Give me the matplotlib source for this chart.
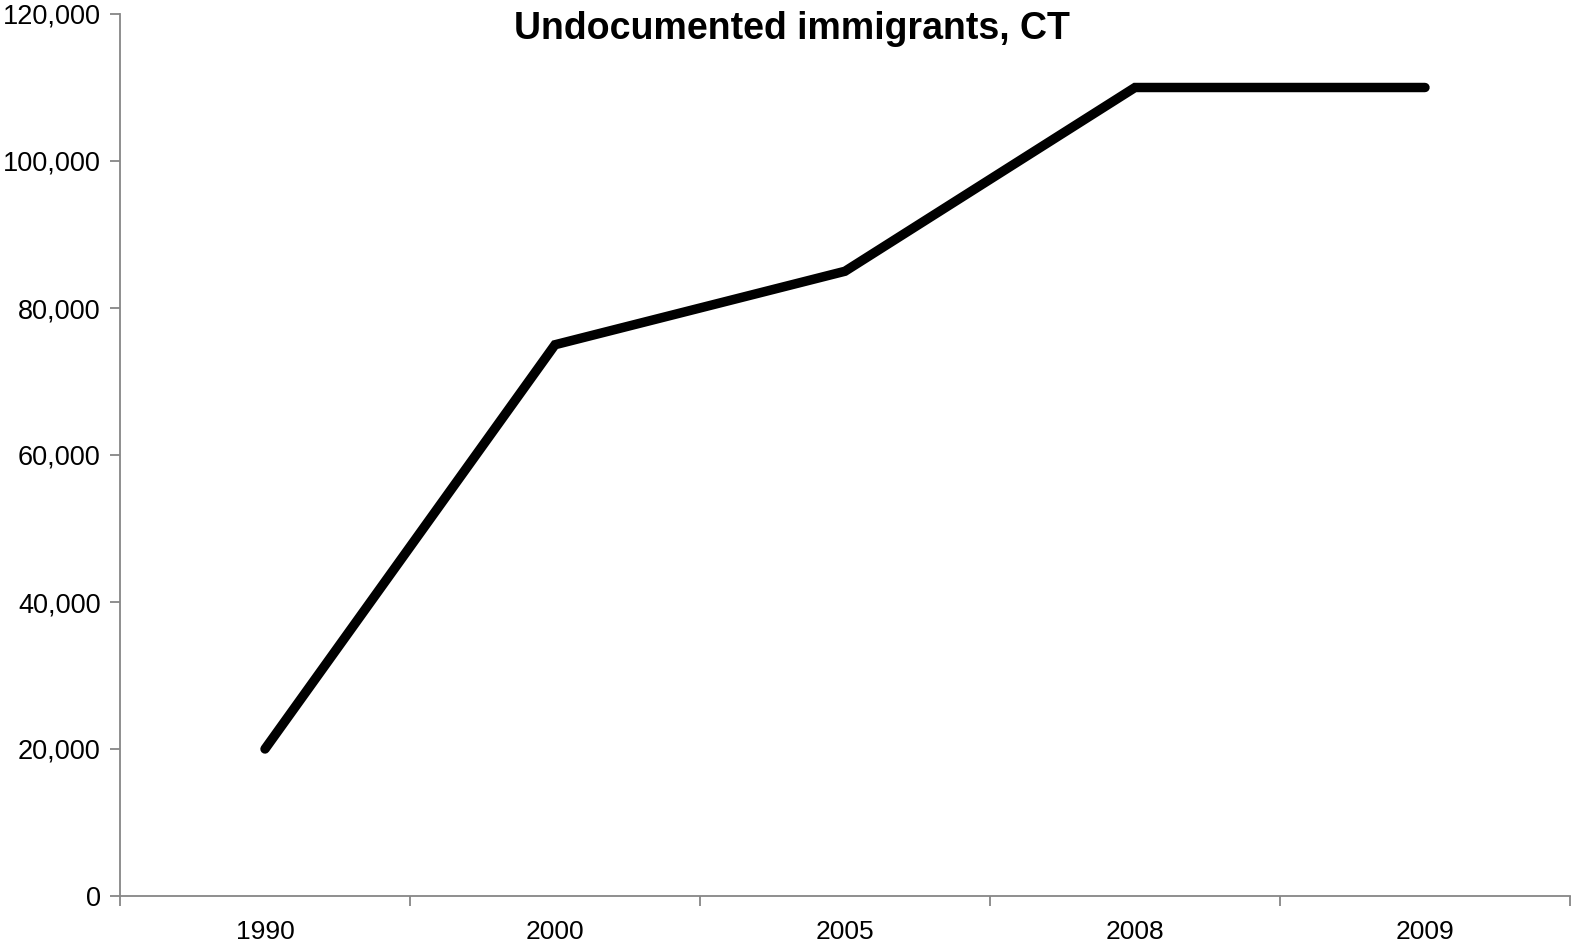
import matplotlib
matplotlib.use("Agg")
import matplotlib.pyplot as plt
from matplotlib.ticker import FuncFormatter

years = ["1990", "2000", "2005", "2008", "2009"]
immigrants = [20000, 75000, 85000, 110000, 110000]
y_ticks = [0, 20000, 40000, 60000, 80000, 100000, 120000]

plt.rcParams["font.family"] = ["Liberation Sans", "DejaVu Sans"]

fig = plt.figure(figsize=(15.72, 9.43), dpi=100)
ax = fig.add_axes([120 / 1572, 47 / 943, 1450 / 1572, 882 / 943])

x = list(range(len(years)))
ax.plot(x, immigrants, color="black", linewidth=6.8, solid_capstyle="round",
        solid_joinstyle="miter")

ax.set_xlim(-0.5, len(years) - 0.5)
ax.set_ylim(0, 120000)
ax.set_yticks(y_ticks)
ax.yaxis.set_major_formatter(FuncFormatter(lambda v, p: f"{int(v):,}"))

# category boundaries get the tick marks; labels sit in the middle
ax.set_xticks([i - 0.5 for i in range(len(years) + 1)])
ax.set_xticklabels([])
ax.set_xticks(x, minor=True)
ax.set_xticklabels(years, minor=True)
ax.tick_params(axis="x", which="minor", length=0, pad=17, labelsize=19)
ax.tick_params(axis="x", which="major", length=7, width=1.3, color="#868686")
ax.tick_params(axis="y", length=7, width=1.3, color="#868686", labelsize=19.5, pad=7)

for side in ("top", "right"):
    ax.spines[side].set_visible(False)
for side in ("left", "bottom"):
    ax.spines[side].set_color("#868686")
    ax.spines[side].set_linewidth(1.3)

fig.text(0.504, 0.969, "Undocumented immigrants, CT", ha="center", va="center",
         fontsize=27, fontweight="bold")

fig.savefig("out.png", dpi=100)
